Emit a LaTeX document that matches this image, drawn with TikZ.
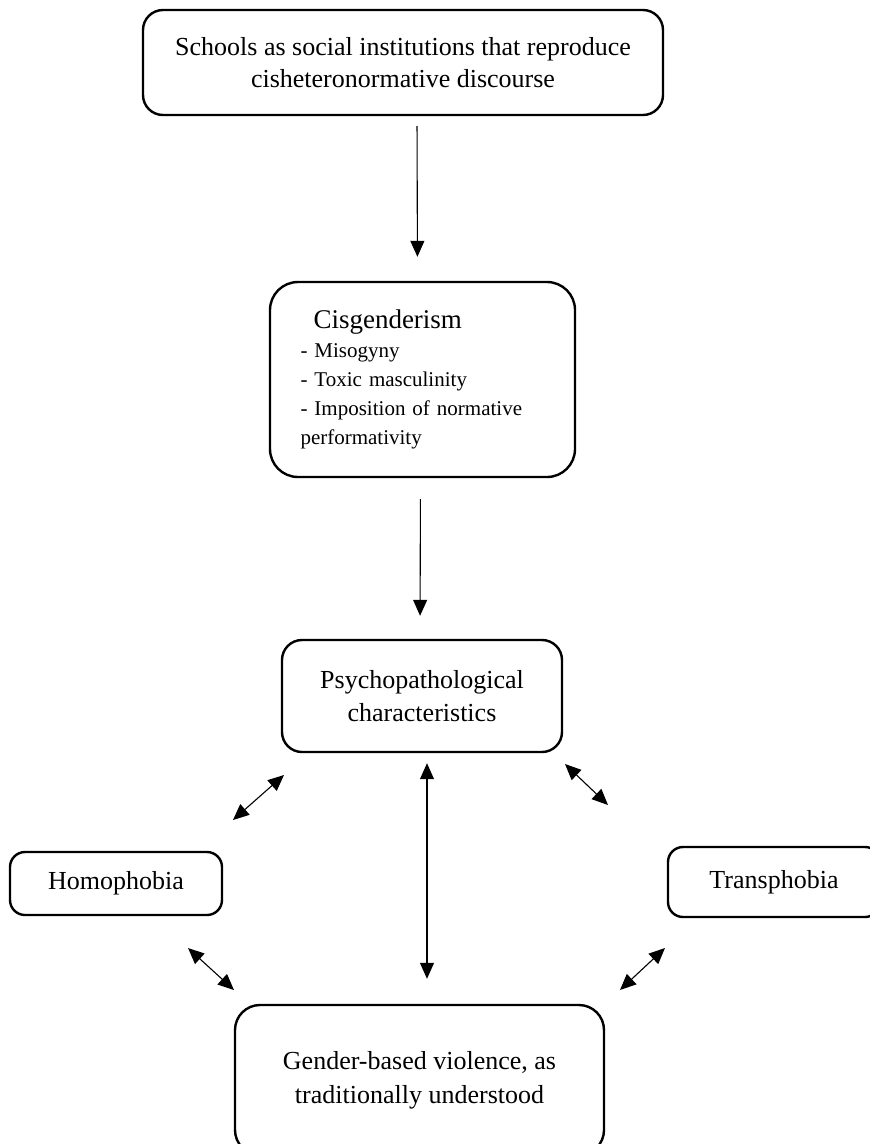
\documentclass[tikz,border=0pt]{standalone}
\usepackage{fontspec}
\setmainfont{Liberation Serif}
\usetikzlibrary{arrows.meta}

\begin{document}
\begin{tikzpicture}[x=1pt,y=-1pt,
  box/.style={draw,line width=2.4pt,rounded corners=20pt,align=center,inner sep=0pt,
              font=\fontsize{26}{32}\selectfont},
  flow/.style={line width=1.1pt,-{Triangle[length=16pt,width=14pt]}},
  both/.style={line width=1.1pt,{Triangle[length=16pt,width=14pt]}-{Triangle[length=16pt,width=14pt]}}]
  \clip (0,0) rectangle (870,1144);
  \useasboundingbox (0,0) rectangle (870,1144);
  \node[box,minimum width=520pt,minimum height=105pt] (school) at (403,62.5)
       {Schools as social institutions that reproduce\\cisheteronormative discourse};
  \node[box,rounded corners=28pt,minimum width=305pt,minimum height=195pt,align=left,
        text width=244pt,font=\fontsize{21}{29}\selectfont] (cis) at (422.5,379.5)
       {{\fontsize{27}{30}\selectfont\hspace*{13pt}Cisgenderism}\\- Misogyny\\- Toxic masculinity\\
        - Imposition of normative\\performativity};
  \node[box,minimum width=280pt,minimum height=112pt,font=\fontsize{26}{33}\selectfont] (psych) at (422,696)
       {Psychopathological\\characteristics};
  \node[box,rounded corners=15pt,minimum width=212pt,minimum height=63pt] (homo) at (116,883.5) {Homophobia};
  \node[box,rounded corners=15pt,minimum width=212pt,minimum height=70pt] (trans) at (774,882) {Transphobia};
  \node[box,rounded corners=25pt,minimum width=369pt,minimum height=150pt,font=\fontsize{26}{34}\selectfont] (gbv) at (419.5,1080)
       {Gender-based violence, as\\traditionally understood};
  % vertical flow
  \draw[flow,shorten <=10pt,shorten >=24pt] ([xshift=14pt]school.south) -- ([xshift=-5pt]cis.north);
  \draw[flow,shorten <=21pt,shorten >=23pt] ([xshift=-2pt]cis.south) -- ([xshift=-2pt]psych.north);
  \draw[both,shorten <=10pt,shorten >=25pt] ([xshift=5pt]psych.south) -- ([xshift=5pt]psych.south |- gbv.north);
  % diagonal links
  \coordinate (ula) at (233,820); \coordinate (ulb) at (284,775);
  \coordinate (ura) at (565,764); \coordinate (urb) at (608,805);
  \coordinate (lla) at (188,948); \coordinate (llb) at (234,990);
  \coordinate (lra) at (620,990); \coordinate (lrb) at (665,948);
  \draw[both] (ula) -- (ulb);
  \draw[both] (ura) -- (urb);
  \draw[both] (lla) -- (llb);
  \draw[both] (lra) -- (lrb);
\end{tikzpicture}
\end{document}
